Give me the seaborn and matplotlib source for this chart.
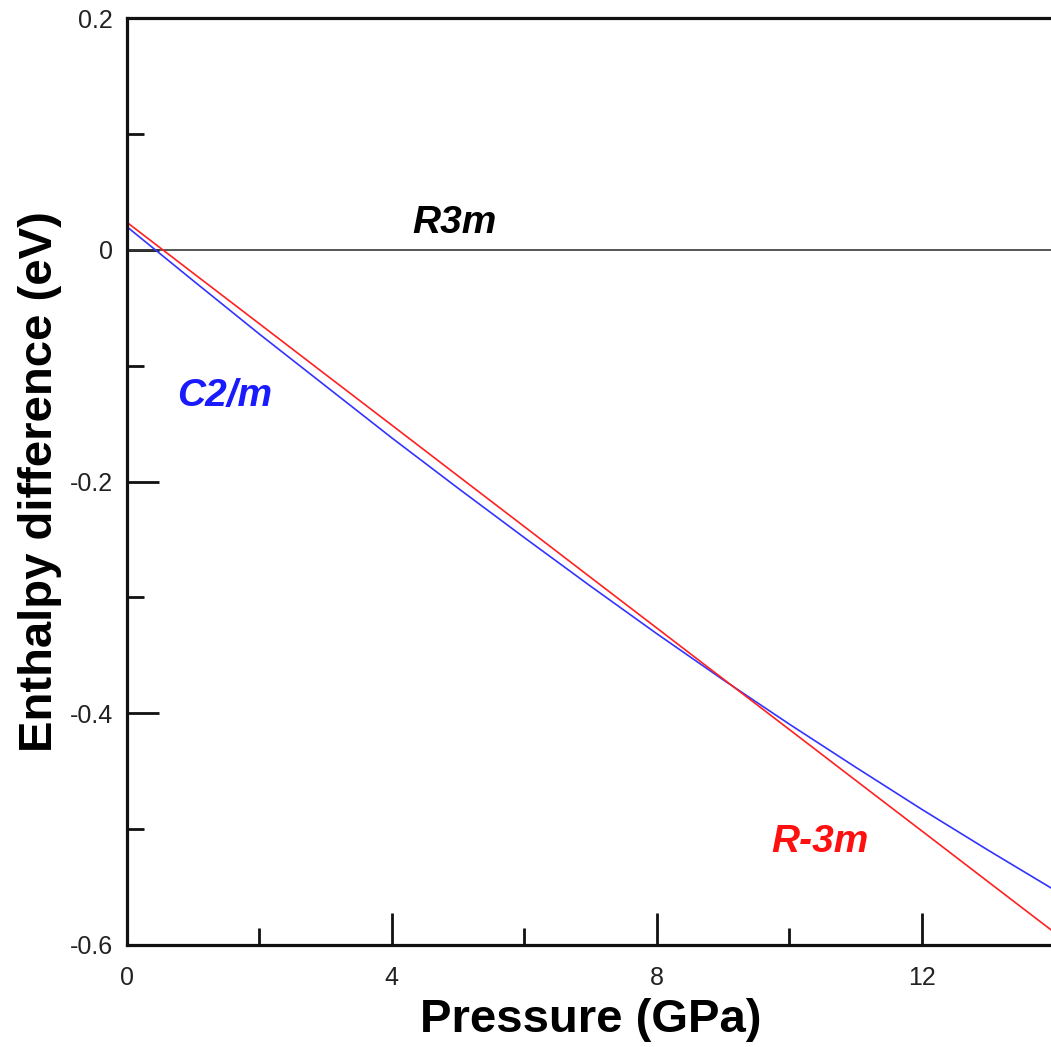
import matplotlib
matplotlib.use("Agg")
import matplotlib.pyplot as plt
import seaborn as sns
import pandas as pd
from matplotlib.ticker import FixedLocator, MultipleLocator

# ---- data ----
pressure = [0, 1, 2, 3, 4, 5, 6, 7, 8, 9, 10, 11, 12, 13, 14]
r3m = [0] * 15
c2m = [0.0198, -0.0267, -0.0728, -0.1176, -0.1624, -0.2058, -0.2484, -0.2903,
       -0.3313, -0.3710, -0.4093, -0.4464, -0.4828, -0.5180, -0.5523]
rm3m = [0.0236, -0.0202, -0.0639, -0.1077, -0.1514, -0.1952, -0.2389, -0.2827,
        -0.3264, -0.3702, -0.4139, -0.4577, -0.5014, -0.5452, -0.5889]
phases = ["R3m", "C2/m", "R-3m"]
x_ticks = [0, 4, 8, 12]
x_ticklabels = ["0", "4", "8", "12"]
y_ticks = [-0.6, -0.4, -0.2, 0, 0.2]
y_ticklabels = ["-0.6", "-0.4", "-0.2", "0", "0.2"]

df = pd.DataFrame({
    "Pressure": pressure * 3,
    "H": r3m + c2m + rm3m,
    "phase": [phases[0]] * len(pressure) + [phases[1]] * len(pressure) + [phases[2]] * len(pressure),
})

sns.set_style("ticks")
plt.rcParams["font.family"] = ["Liberation Sans", "DejaVu Sans"]

fig = plt.figure(figsize=(10.51, 10.47), dpi=100)
ax = fig.add_axes([127 / 1051, 102 / 1047, 927 / 1051, 927 / 1047])

palette = {"R3m": "#3a3a3a", "C2/m": "#3333ff", "R-3m": "#ff2020"}
sns.lineplot(data=df, x="Pressure", y="H", hue="phase", palette=palette,
             hue_order=["R3m", "C2/m", "R-3m"], linewidth=1.2, legend=False,
             ax=ax, estimator=None, sort=True)

ax.set_xlim(0, 14)
ax.set_ylim(-0.6, 0.2)
ax.xaxis.set_major_locator(FixedLocator(x_ticks))
ax.set_xticklabels(x_ticklabels)
ax.xaxis.set_minor_locator(MultipleLocator(2))
ax.yaxis.set_major_locator(FixedLocator(y_ticks))
ax.set_yticklabels(y_ticklabels)
ax.yaxis.set_minor_locator(MultipleLocator(0.1))

ax.tick_params(which="both", direction="in", top=False, right=False, width=2.0,
               color="#111111")
ax.tick_params(which="major", length=23, labelsize=18, labelcolor="#222222")
ax.tick_params(axis="x", which="major", pad=15)
ax.tick_params(axis="y", which="major", pad=10)
ax.tick_params(which="minor", length=12)

for s in ["left", "bottom", "top"]:
    ax.spines[s].set_linewidth(2.3)
    ax.spines[s].set_color("#111111")
ax.spines["right"].set_visible(False)

ax.set_xlabel("Pressure (GPa)", fontsize=34, fontweight="bold", labelpad=6,
              color="black")
ax.set_ylabel("Enthalpy difference (eV)", fontsize=34, fontweight="bold",
              labelpad=6, color="black")

ax.text(4.95, 0.0229, "R3m", color="black", fontsize=28, fontweight="bold",
        fontstyle="italic", ha="center", va="center")
ax.text(1.48, -0.126, "C2/m", color="#1a1aff", fontsize=28, fontweight="bold",
        fontstyle="italic", ha="center", va="center")
ax.text(10.46, -0.511, "R-3m", color="#ff1010", fontsize=28, fontweight="bold",
        fontstyle="italic", ha="center", va="center")

fig.savefig("out.png", dpi=100)
